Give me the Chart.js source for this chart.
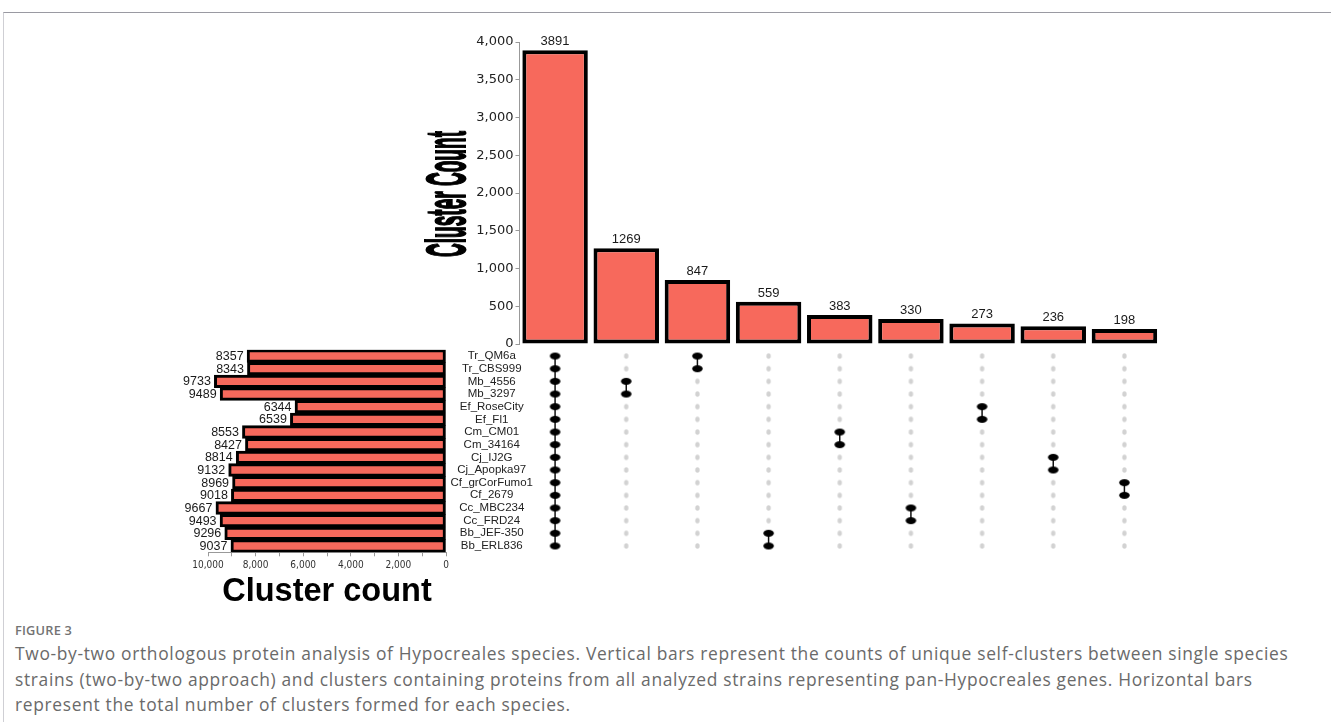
<!DOCTYPE html>
<html>
<head>
<meta charset="utf-8">
<script src="https://cdn.jsdelivr.net/npm/chart.js@4.4.1/dist/chart.umd.min.js"></script>
<style>
  html, body { margin: 0; padding: 0; background: #fff; width: 1331px; height: 722px; overflow: hidden; }
  #frame { position: absolute; left: 3px; top: 12px; right: 0; bottom: 0; border-top: 1px solid #9a9aa2; border-left: 1px solid #cfcfd4; }
  .box { position: absolute; }
  #fig-label { position: absolute; left: 15px; top: 621px; font: 600 12.8px "Open Sans", sans-serif; color: #737373; letter-spacing: 0.2px; }
  #fig-text { position: absolute; left: 15px; top: 641px; font: 400 17.4px/25.5px "Open Sans", sans-serif; color: #6a6a6a; letter-spacing: 0.67px; white-space: nowrap; }
</style>
</head>
<body>
<div id="frame"></div>
<div class="box" style="left:400px;top:20px;"><canvas id="topBars" width="770" height="340"></canvas></div>
<div class="box" style="left:170px;top:335px;"><canvas id="setSizes" width="380" height="280"></canvas></div>
<div class="box" style="left:500px;top:340px;"><canvas id="matrix" width="670" height="225"></canvas></div>
<div id="fig-label">FIGURE 3</div>
<div id="fig-text">Two-by-two orthologous protein analysis of Hypocreales species. Vertical bars represent the counts of unique self-clusters between single species<br>strains (two-by-two approach) and clusters containing proteins from all analyzed strains representing pan-Hypocreales genes. Horizontal bars<br>represent the total number of clusters formed for each species.</div>

<script>
// Strains, top to bottom
const strains = ['Tr_QM6a', 'Tr_CBS999', 'Mb_4556', 'Mb_3297', 'Ef_RoseCity', 'Ef_Fl1',
                 'Cm_CM01', 'Cm_34164', 'Cj_IJ2G', 'Cj_Apopka97', 'Cf_grCorFumo1', 'Cf_2679',
                 'Cc_MBC234', 'Cc_FRD24', 'Bb_JEF-350', 'Bb_ERL836'];
// Total clusters per strain
const strainTotals = [8357, 8343, 9733, 9489, 6344, 6539, 8553, 8427, 8814, 9132, 8969, 9018, 9667, 9493, 9296, 9037];
// Intersection sizes, in the order drawn
const intersectionSizes = [3891, 1269, 847, 559, 383, 330, 273, 236, 198];
// Strains making up each intersection
const intersectionMembers = [
  strains.slice(),
  ['Mb_4556', 'Mb_3297'],
  ['Tr_QM6a', 'Tr_CBS999'],
  ['Bb_JEF-350', 'Bb_ERL836'],
  ['Cm_CM01', 'Cm_34164'],
  ['Cc_MBC234', 'Cc_FRD24'],
  ['Ef_RoseCity', 'Ef_Fl1'],
  ['Cj_IJ2G', 'Cj_Apopka97'],
  ['Cf_grCorFumo1', 'Cf_2679']
];
// Axis tick settings
const topTickStep = 500, topMax = 4000;
const sideTickStep = 1000, sideLabelStep = 2000, sideMax = 10000;

const BAR_FILL = '#F7695C';
const SANS = '"Liberation Sans", Arial, sans-serif';
const NARROW = '"Liberation Sans Narrow", "DejaVu Sans Condensed", "Liberation Sans", sans-serif';
const fmt = v => Number(v).toLocaleString('en-US');

// ---------- top: intersection size bars ----------
const topLabels = {
  id: 'topLabels',
  afterDatasetsDraw(chart) {
    const ctx = chart.ctx;
    const meta = chart.getDatasetMeta(0);
    ctx.save();
    ctx.font = '13px ' + SANS;
    ctx.fillStyle = '#1a1a1a';
    ctx.textAlign = 'center';
    ctx.textBaseline = 'bottom';
    meta.data.forEach((bar, i) => {
      ctx.fillText(String(chart.data.datasets[0].data[i]), bar.x, bar.y - 2);
    });
    ctx.restore();
  },
  afterDraw(chart) {
    // condensed rotated axis title
    const ctx = chart.ctx;
    const text = 'Cluster Count';
    ctx.save();
    ctx.font = 'bold 56px ' + SANS;
    const w = ctx.measureText(text).width;
    ctx.translate(65, 174);
    ctx.rotate(-Math.PI / 2);
    ctx.scale(126 / w, 1);
    ctx.fillStyle = '#000';
    ctx.strokeStyle = '#000';
    ctx.lineWidth = 2;
    ctx.textAlign = 'center';
    ctx.textBaseline = 'alphabetic';
    ctx.fillText(text, 0, 0);
    ctx.strokeText(text, 0, 0);
    ctx.restore();
  }
};

new Chart(document.getElementById('topBars'), {
  type: 'bar',
  data: {
    labels: intersectionSizes.map((_, i) => 'I' + (i + 1)),
    datasets: [{
      data: intersectionSizes,
      backgroundColor: BAR_FILL,
      borderColor: '#000',
      borderWidth: 4,
      borderSkipped: false,
      barPercentage: 0.92,
      categoryPercentage: 1
    }]
  },
  options: {
    responsive: false,
    animation: false,
    layout: { padding: { left: 0, right: 10, top: 22, bottom: 16 } },
    plugins: { legend: { display: false }, tooltip: { enabled: false } },
    scales: {
      x: { display: false },
      y: {
        min: 0, max: topMax,
        afterFit(scale) { scale.width = 119.5; },
        ticks: { stepSize: topTickStep, callback: v => fmt(v), color: '#222',
                 font: { family: '"DejaVu Sans", sans-serif', size: 13 }, padding: 2 },
        grid: { display: true, drawOnChartArea: false, tickLength: 4, color: '#999' },
        border: { display: true, color: '#999', width: 1 }
      }
    }
  },
  plugins: [topLabels]
});

// ---------- left: set size bars ----------
const sideLabels = {
  id: 'sideLabels',
  afterDatasetsDraw(chart) {
    const ctx = chart.ctx;
    const meta = chart.getDatasetMeta(0);
    ctx.save();
    ctx.font = '12.5px ' + SANS;
    ctx.fillStyle = '#1a1a1a';
    ctx.textAlign = 'right';
    ctx.textBaseline = 'middle';
    meta.data.forEach((bar, i) => {
      ctx.fillText(String(chart.data.datasets[0].data[i]), bar.x - 3.5, bar.y + 0.5);
    });
    ctx.restore();
  }
};

new Chart(document.getElementById('setSizes'), {
  type: 'bar',
  data: {
    labels: strains,
    datasets: [{
      data: strainTotals,
      backgroundColor: BAR_FILL,
      borderColor: '#000',
      borderWidth: 3,
      borderSkipped: false,
      barPercentage: 1,
      categoryPercentage: 1
    }]
  },
  options: {
    indexAxis: 'y',
    responsive: false,
    animation: false,
    layout: { padding: { left: 38, right: 0, top: 14.7, bottom: 0 } },
    plugins: { legend: { display: false }, tooltip: { enabled: false } },
    scales: {
      x: {
        reverse: true, min: 0, max: sideMax,
        afterFit(scale) { scale.height = 62.7; },
        ticks: {
          stepSize: sideTickStep, autoSkip: false, maxRotation: 0, padding: 3,
          callback: v => (v % sideLabelStep === 0 ? fmt(v) : ''),
          color: '#333', font: { family: NARROW, size: 10 }
        },
        grid: { display: true, drawOnChartArea: false, tickLength: 4, color: '#999' },
        border: { display: true, color: '#999', width: 1 },
        title: { display: true, text: 'Cluster count', color: '#000',
                 font: { family: SANS, size: 32.5, weight: 'bold' }, padding: { top: 0, bottom: 3 } }
      },
      y: {
        position: 'right',
        afterFit(scale) { scale.width = 104; },
        ticks: { autoSkip: false, crossAlign: 'center', padding: 4.5, color: '#222',
                 font: { family: SANS, size: 11.5 } },
        grid: { display: false, drawTicks: false },
        border: { display: false }
      }
    }
  },
  plugins: [sideLabels]
});

// ---------- matrix of member dots ----------
function ellipseSprite(w, h, color) {
  const c = document.createElement('canvas');
  c.width = Math.ceil(w) + 2;
  c.height = Math.ceil(h) + 2;
  const g = c.getContext('2d');
  g.fillStyle = color;
  g.beginPath();
  g.ellipse(c.width / 2, c.height / 2, w / 2, h / 2, 0, 0, Math.PI * 2);
  g.fill();
  return c;
}
const dotOn = ellipseSprite(10.5, 6.8, '#000');
const dotOff = ellipseSprite(4.4, 5.6, '#d2d2d2');

const gridPoints = [];
intersectionSizes.forEach((_, col) => strains.forEach((_, row) => gridPoints.push({ x: col, y: row })));

// member dots and their connecting segments (drawn above the grey grid)
const memberSets = intersectionMembers.map((members, col) => ({
  data: members.map(s => ({ x: col, y: strains.indexOf(s) })),
  showLine: true,
  borderColor: '#111',
  borderWidth: 1.5,
  pointStyle: dotOn,
  pointBackgroundColor: '#000',
  pointBorderColor: '#000',
  pointRadius: 5,
  pointHoverRadius: 5,
  order: 0
}));
const greyGrid = {
  data: gridPoints,
  pointStyle: dotOff,
  pointBackgroundColor: '#d2d2d2',
  pointBorderColor: '#d2d2d2',
  pointRadius: 3,
  showLine: false,
  order: 1
};

new Chart(document.getElementById('matrix'), {
  type: 'scatter',
  data: { datasets: memberSets.concat([greyGrid]) },
  options: {
    responsive: false,
    animation: false,
    layout: { padding: { left: 19.5, right: 10, top: 9.7, bottom: 12.7 } },
    plugins: { legend: { display: false }, tooltip: { enabled: false } },
    scales: {
      x: { type: 'linear', min: -0.5, max: intersectionSizes.length - 0.5, display: false },
      y: { type: 'linear', min: -0.5, max: strains.length - 0.5, reverse: true, display: false }
    }
  }
});
</script>
</body>
</html>
